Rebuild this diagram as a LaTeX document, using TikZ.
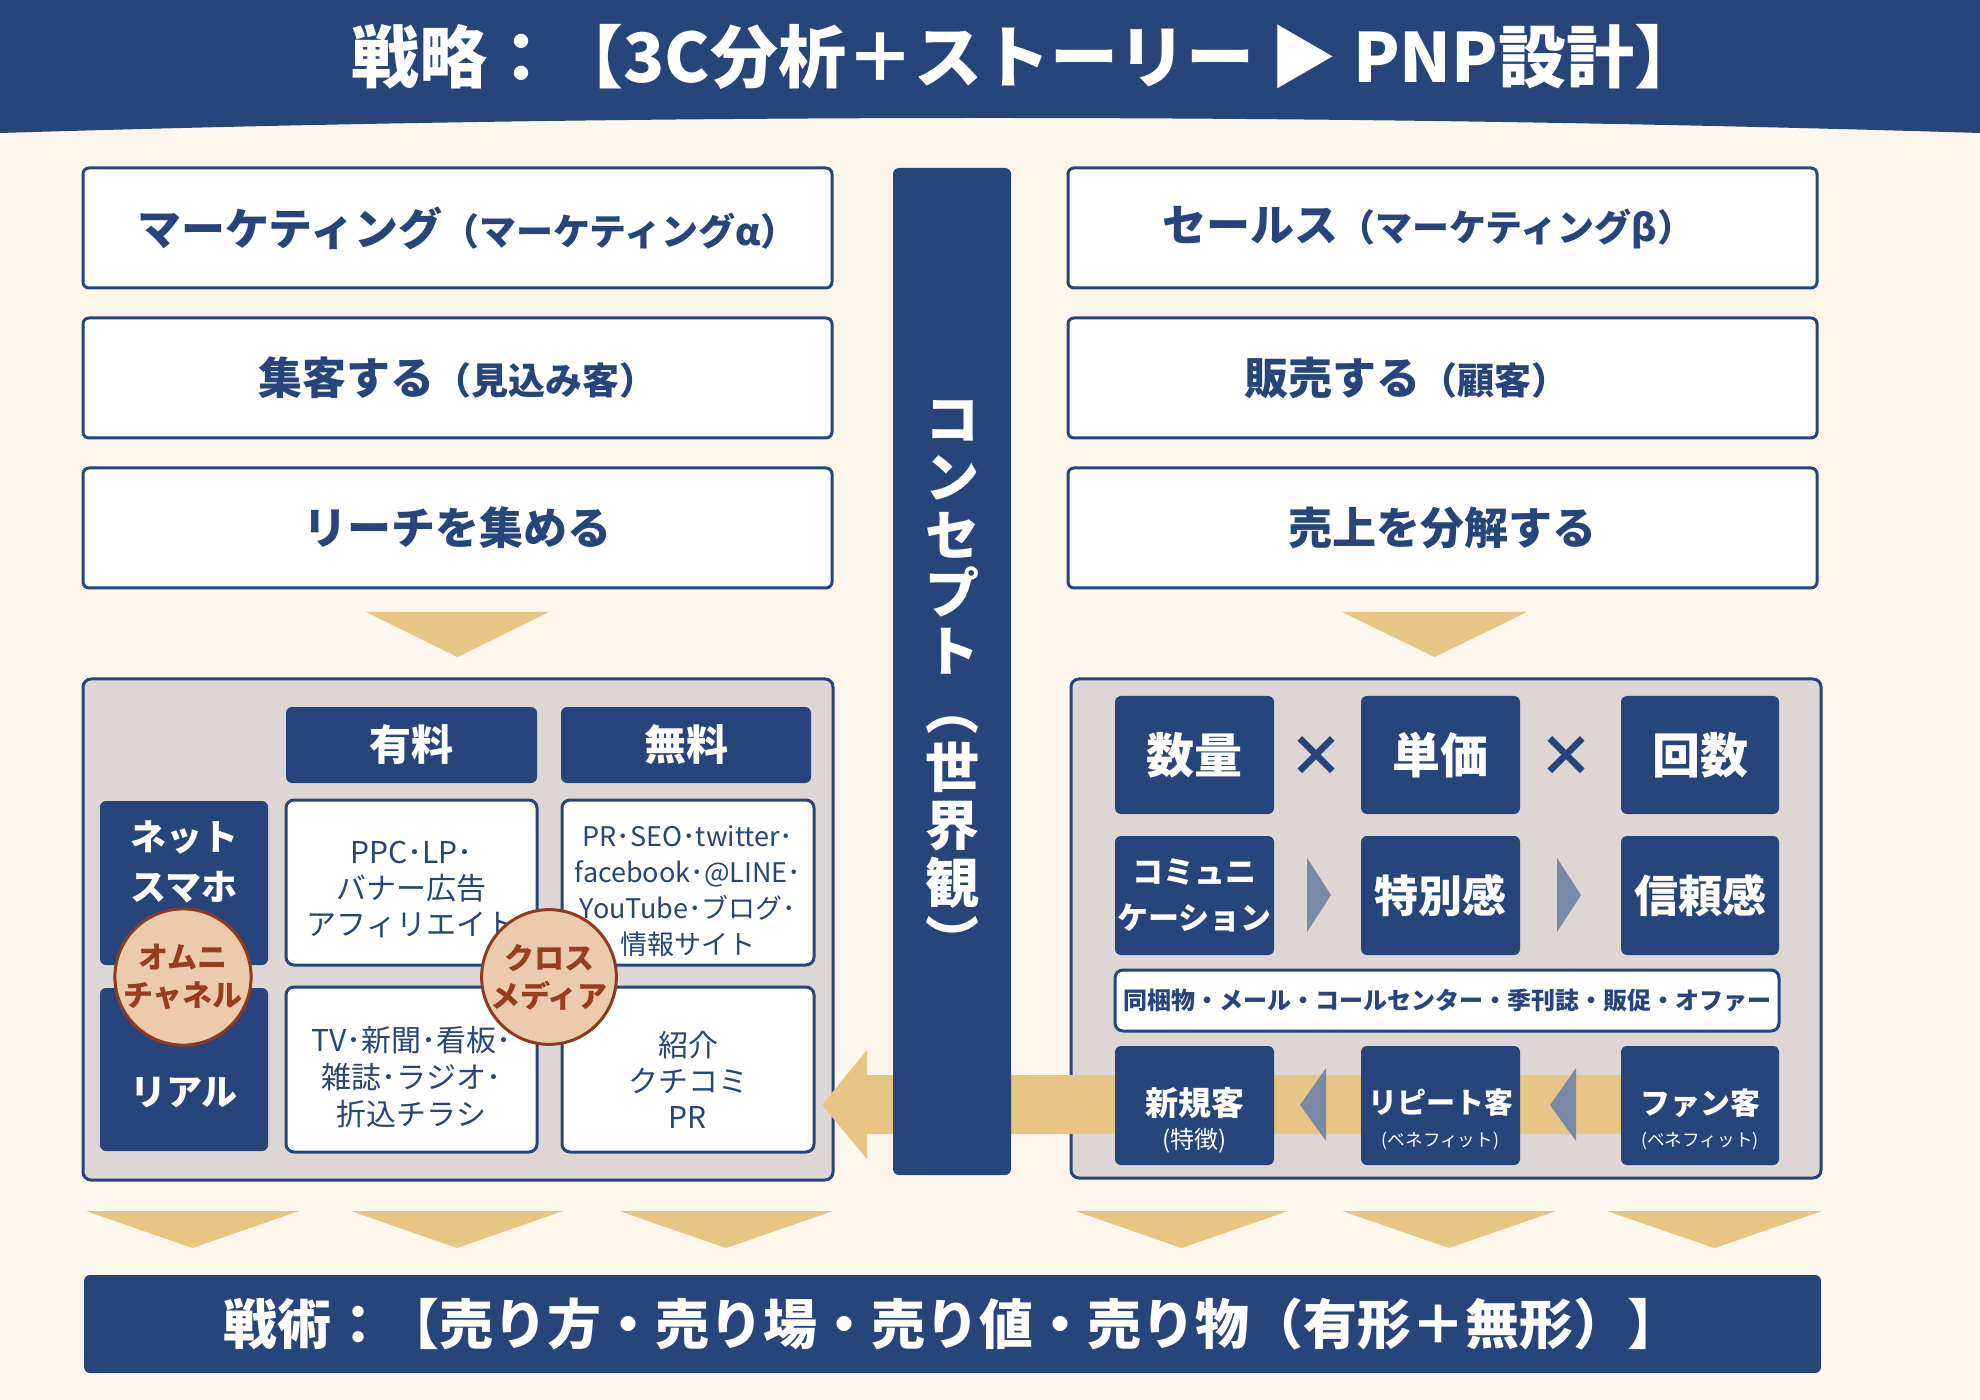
\documentclass[tikz,border=0pt]{standalone}
\usepackage{fontspec}
\setmainfont{Noto Sans CJK JP}
\definecolor{navy}{HTML}{27457A}
\definecolor{cream}{HTML}{FDF6EB}
\definecolor{gold}{HTML}{E6C585}
\definecolor{panel}{HTML}{DDD6D4}
\definecolor{trigray}{HTML}{7A89A6}
\definecolor{circfill}{HTML}{ECCBAD}
\definecolor{circline}{HTML}{8C3B1F}
\definecolor{circtext}{HTML}{983D1D}
\newcommand\fs[2]{\fontsize{#1pt}{#2pt}\selectfont}
\newcommand\sub[1]{{\fs{18.5}{22}#1}}
% #1 style, #2 name, #3 x1, #4 y1, #5 x2, #6 y2, #7 text
\newcommand\mkbox[7]{%
  \pgfmathsetmacro\bw{(#5-#3)*0.5}\pgfmathsetmacro\bh{(#6-#4)*0.5}%
  \node[#1, minimum width=\bw pt, minimum height=\bh pt] (#2) at ({(#3+#5)/2},{(#4+#6)/2}) {#7};}
\begin{document}
\begin{tikzpicture}[x=0.5pt,y=-0.5pt,
  colbox/.style={draw=navy,line width=1.5pt,fill=white,rounded corners=3pt,text=navy,inner sep=0pt,font=\bfseries\fs{22}{26}},
  panelbox/.style={draw=navy,line width=1.5pt,fill=panel,rounded corners=4pt,inner sep=0pt},
  navybox/.style={fill=navy,rounded corners=3pt,text=white,inner sep=0pt,align=center},
  cell/.style={draw=navy,line width=1.5pt,fill=white,rounded corners=4pt,inner sep=0pt},
  celltext/.style={inner sep=0pt,align=center,text=navy},
  circ/.style={circle,draw=circline,line width=1.5pt,fill=circfill,text=circtext,font=\bfseries\fs{15}{19},align=center,minimum size=64pt,inner sep=0pt},
  lbl/.style={inner sep=0pt,align=center},
  chev/.style={fill=gold},
  tri/.style={fill=trigray}]
\useasboundingbox (0,0) rectangle (1980,1400);
\fill[cream] (0,0) rectangle (1980,1400);
% header band
\fill[navy] (0,0) -- (1980,0) -- (1980,133) .. controls (1320,113) and (660,113) .. (0,133) -- cycle;
\node[lbl,text=white,font=\bfseries\fs{34}{36}] (title) at (1027,57) {戦略：【3C分析＋ストーリー ▶ PNP設計】};
% column boxes
\mkbox{colbox}{m1}{83}{168}{832}{288}{\kern10pt マーケティング\sub{（マーケティングα）}}
\mkbox{colbox}{m2}{83}{318}{832}{438}{集客する\sub{（見込み客）}}
\mkbox{colbox}{m3}{83}{468}{832}{588}{リーチを集める}
\mkbox{colbox}{s1}{1068}{168}{1817}{288}{セールス\sub{（マーケティングβ）}\kern14pt}
\mkbox{colbox}{s2}{1068}{318}{1817}{438}{販売する\sub{（顧客）}\kern36pt}
\mkbox{colbox}{s3}{1068}{468}{1817}{588}{売上を分解する}
% top chevrons
\fill[chev] (366,612) -- (549,612) -- (457.5,657) -- cycle;
\fill[chev] (1342,612) -- (1527,612) -- (1434.5,657) -- cycle;
% panels
\mkbox{panelbox}{lp}{83}{679}{833}{1180}{}
\mkbox{panelbox}{rp}{1071}{679}{1821}{1178}{}
% big gold arrow
\fill[gold] (822,1105) -- (867,1050) -- (867,1075) -- (1700,1075) -- (1700,1134) -- (867,1134) -- (867,1159) -- cycle;
% concept bar
\mkbox{navybox}{concept}{893}{168}{1011}{1175}{}
\node[lbl,text=white,font=\bfseries\fs{27}{29}] (conceptT) at (952,681) {コ\\ン\\セ\\プ\\ト\\︵\\世\\界\\観\\︶};
% left panel contents
\mkbox{navybox,font=\bfseries\fs{21}{24}}{paid}{286}{707}{537}{783}{有料}
\mkbox{navybox,font=\bfseries\fs{21}{24}}{free}{561}{707}{811}{783}{無料}
\mkbox{navybox}{net}{100}{801}{268}{965}{}
\mkbox{navybox}{real}{100}{988}{268}{1151}{}
\node[lbl,text=white,font=\bfseries\fs{18}{25}] (netT) at (184,862) {ネット\\スマホ};
\node[lbl,text=white,font=\bfseries\fs{18}{25}] (realT) at (184,1093) {リアル};
\mkbox{cell}{c11}{286}{800}{537}{965}{}
\mkbox{cell}{c12}{562}{800}{814}{965}{}
\mkbox{cell}{c21}{286}{987}{537}{1152}{}
\mkbox{cell}{c22}{562}{987}{814}{1152}{}
\node[celltext,font=\fs{15}{18}] (c11t) at (411.5,889) {PPC･LP･\\バナー広告\\アフィリエイト};
\node[celltext,font=\fs{13.5}{18}] (c12t) at (688,891) {PR･SEO･twitter･\\facebook･@LINE･\\YouTube･ブログ･\\情報サイト};
\node[celltext,font=\fs{15}{18.5}] (c21t) at (411.5,1077) {TV･新聞･看板･\\雑誌･ラジオ･\\折込チラシ};
\node[celltext,font=\fs{15}{18}] (c22t) at (688,1080) {紹介\\クチコミ\\PR};
\node[circ] (omni) at (183,977) {オムニ\\チャネル};
\node[circ] (cross) at (549,977) {クロス\\メディア};
% right panel contents
\mkbox{navybox,font=\bfseries\fs{24}{26}}{qty}{1115}{696}{1274}{814}{数量}
\mkbox{navybox,font=\bfseries\fs{24}{26}}{price}{1361}{696}{1520}{814}{単価}
\mkbox{navybox,font=\bfseries\fs{24}{26}}{times}{1621}{696}{1779}{814}{回数}
\node[lbl,text=navy,font=\bfseries\fs{28}{30}] (x1) at (1316,756) {×};
\node[lbl,text=navy,font=\bfseries\fs{28}{30}] (x2) at (1566,756) {×};
\mkbox{navybox,font=\bfseries\fs{15.5}{23}}{comm}{1115}{836}{1274}{955}{コミュニ\\ケーション}
\mkbox{navybox,font=\bfseries\fs{22}{24}}{spec}{1361}{836}{1520}{955}{特別感}
\mkbox{navybox,font=\bfseries\fs{22}{24}}{trust}{1621}{836}{1779}{955}{信頼感}
\fill[tri] (1307,858) -- (1331,895) -- (1307,932) -- cycle;
\fill[tri] (1557,858) -- (1581,895) -- (1557,932) -- cycle;
\mkbox{cell,text=navy,font=\bfseries\fs{12}{14}}{media}{1115}{970}{1779}{1031}{同梱物・メール・コールセンター・季刊誌・販促・オファー}
\mkbox{navybox}{newc}{1115}{1046}{1274}{1165}{}
\mkbox{navybox}{repc}{1361}{1046}{1520}{1165}{}
\mkbox{navybox}{fanc}{1621}{1046}{1779}{1165}{}
\node[lbl,text=white,font=\bfseries\fs{16.5}{18}] (newT) at (1194.5,1103) {新規客};
\node[lbl,text=white,font=\fs{12}{13}] (newS) at (1194.5,1141) {(特徴)};
\node[lbl,text=white,font=\bfseries\fs{14.5}{18}] (repT) at (1440.5,1103) {リピート客};
\node[lbl,text=white,font=\fs{8.8}{12}] (repS) at (1440.5,1141) {(ベネフィット)};
\node[lbl,text=white,font=\bfseries\fs{15}{18}] (fanT) at (1700,1103) {ファン客};
\node[lbl,text=white,font=\fs{8.8}{12}] (fanS) at (1700,1141) {(ベネフィット)};
\fill[tri] (1326,1068) -- (1300,1105) -- (1326,1141) -- cycle;
\fill[tri] (1576,1068) -- (1550,1105) -- (1576,1141) -- cycle;
% bottom chevrons
\fill[chev] (86,1211) -- (299,1211) -- (192.5,1248) -- cycle;
\fill[chev] (351,1211) -- (563,1211) -- (457,1248) -- cycle;
\fill[chev] (619,1211) -- (833,1211) -- (726,1248) -- cycle;
\fill[chev] (1075,1211) -- (1288,1211) -- (1181.5,1248) -- cycle;
\fill[chev] (1342,1211) -- (1556,1211) -- (1449,1248) -- cycle;
\fill[chev] (1607,1211) -- (1822,1211) -- (1714.5,1248) -- cycle;
% bottom bar
\mkbox{navybox,font=\bfseries\fs{27}{30}}{tactics}{84}{1275}{1821}{1373}{戦術：【売り方・売り場・売り値・売り物（有形＋無形）】}
\end{tikzpicture}
\end{document}
